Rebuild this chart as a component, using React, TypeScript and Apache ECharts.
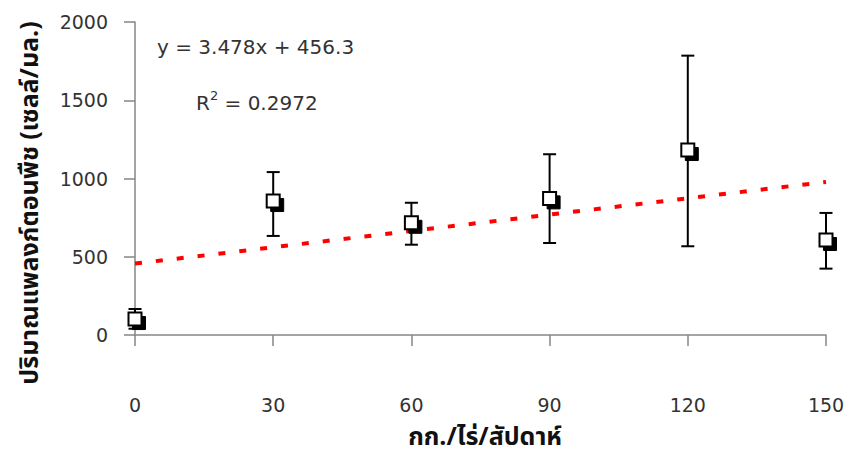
import React, { useEffect, useRef } from "react";
import * as echarts from "echarts";

const xValues = [0, 30, 60, 90, 120, 150];
const means = [102, 856, 717, 873, 1182, 607];
const upperErr = [166, 1041, 845, 1155, 1785, 780];
const lowerErr = [40, 633, 577, 588, 567, 424];
const slope = 3.478;
const intercept = 456.3;
const xTicks = [0, 30, 60, 90, 120, 150];
const yTicks = [0, 500, 1000, 1500, 2000];

const FONT = "'DejaVu Sans', 'Liberation Sans', sans-serif";
const THAI = "'Noto Sans Thai', 'Tahoma', 'Liberation Sans', sans-serif";

export default function App() {
  const ref = useRef<HTMLDivElement>(null);
  useEffect(() => {
    if (!ref.current) return;
    const chart = echarts.init(ref.current, null, { renderer: "svg" });
    const pts = xValues.map((x, i) => [x, means[i]]);
    const errData = xValues.map((x, i) => [x, lowerErr[i], upperErr[i]]);
    const xMin = xTicks[0];
    const xMax = xTicks[xTicks.length - 1];
    chart.setOption({
      animation: false,
      backgroundColor: "#fff",
      grid: { left: 135, right: 22, top: 22, bottom: 124, containLabel: false },
      xAxis: {
        type: "value",
        min: xMin,
        max: xMax,
        interval: 30,
        axisLine: { show: true, onZero: false, lineStyle: { color: "#868686", width: 1.5 } },
        axisTick: { show: true, length: 11, inside: false, lineStyle: { color: "#868686", width: 1.5 } },
        axisLabel: { margin: 60, fontSize: 19, color: "#333", fontFamily: FONT, formatter: (v: number) => String(v) },
        splitLine: { show: false },
      },
      yAxis: {
        type: "value",
        min: yTicks[0],
        max: yTicks[yTicks.length - 1],
        interval: 500,
        axisLine: { show: true, lineStyle: { color: "#868686", width: 1.5 } },
        axisTick: { show: true, length: 11, lineStyle: { color: "#868686", width: 1.5 } },
        axisLabel: { margin: 27, fontSize: 19, color: "#333", fontFamily: FONT, formatter: (v: number) => String(v) },
        splitLine: { show: false },
      },
      series: [
        {
          type: "line",
          data: [
            [xMin, intercept + slope * xMin],
            [xMax, intercept + slope * xMax],
          ],
          symbol: "none",
          lineStyle: { color: "#ff0000", width: 4, type: [7, 14] },
          z: 1,
        },
        {
          type: "custom",
          data: errData,
          z: 2,
          renderItem: (params: any, api: any) => {
            const x = api.value(0);
            const lo = api.coord([x, api.value(1)]);
            const hi = api.coord([x, api.value(2)]);
            const hw = 6.5;
            const style = { stroke: "#000", lineWidth: 2 };
            return {
              type: "group",
              children: [
                { type: "line", shape: { x1: lo[0], y1: lo[1], x2: hi[0], y2: hi[1] }, style },
                { type: "line", shape: { x1: hi[0] - hw, y1: hi[1], x2: hi[0] + hw, y2: hi[1] }, style },
                { type: "line", shape: { x1: lo[0] - hw, y1: lo[1], x2: lo[0] + hw, y2: lo[1] }, style },
              ],
            };
          },
        },
        {
          type: "scatter",
          data: pts,
          symbol: "rect",
          symbolSize: 13,
          symbolOffset: [4, 4],
          itemStyle: { color: "#000", borderColor: "#000", borderWidth: 1, opacity: 1 },
          z: 3,
        },
        {
          type: "scatter",
          data: pts,
          symbol: "rect",
          symbolSize: 13,
          itemStyle: { color: "#fff", borderColor: "#000", borderWidth: 2, opacity: 1 },
          z: 4,
        },
      ],
      graphic: [
        {
          type: "text",
          left: 157,
          top: 37,
          style: { text: "y = 3.478x + 456.3", fontSize: 20, fill: "#333", fontFamily: FONT },
        },
        {
          type: "text",
          left: 196,
          top: 89,
          style: {
            text: "R{sup|2} = 0.2972",
            fontSize: 20,
            fill: "#333",
            fontFamily: FONT,
            rich: {
              sup: { fontSize: 13, fontFamily: FONT, fill: "#333", verticalAlign: "top", padding: [0, 0, 14, 0] },
            },
          },
        },
        {
          type: "text",
          x: 30,
          y: 203,
          rotation: Math.PI / 2,
          style: {
            text: "ปริมาณแพลงก์ตอนพืช (เซลล์/มล.)",
            fontSize: 25,
            fontWeight: "bold",
            fill: "#111",
            fontFamily: THAI,
            align: "center",
            verticalAlign: "middle",
          },
        },
        {
          type: "text",
          x: 485,
          y: 437,
          style: {
            text: "กก./ไร่/สัปดาห์",
            fontSize: 25,
            fontWeight: "bold",
            fill: "#111",
            fontFamily: THAI,
            align: "center",
            verticalAlign: "middle",
          },
        },
      ],
    });
    return () => chart.dispose();
  }, []);
  return <div ref={ref} style={{ width: 848, height: 459, position: "absolute", left: 0, top: 0 }} />;
}
